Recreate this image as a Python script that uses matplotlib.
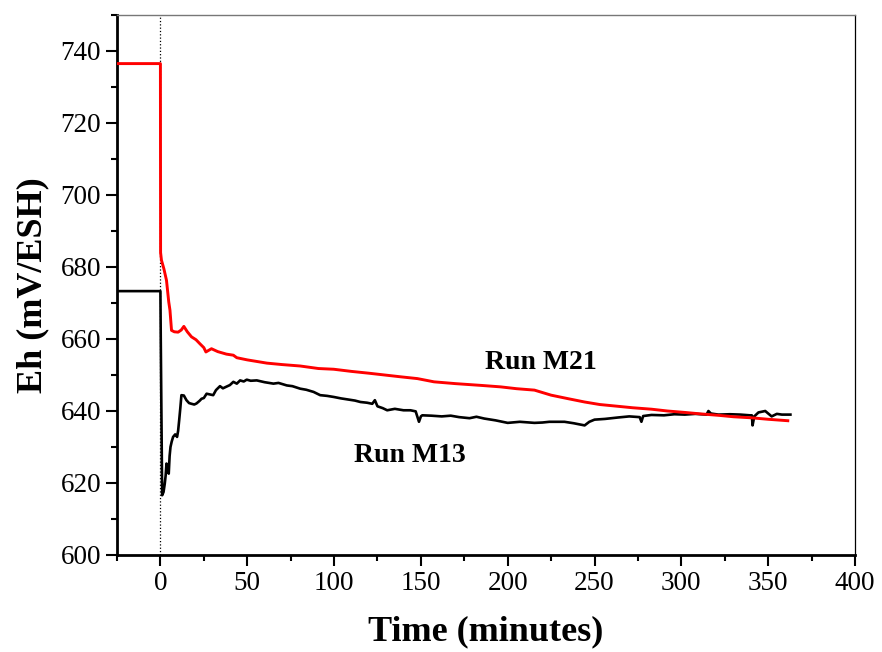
import matplotlib
matplotlib.use("Agg")
import matplotlib.pyplot as plt
from matplotlib.ticker import MultipleLocator

# --- data ---
m21_time = [-25, 0, 0.1, 0.6, 2.0, 3.5, 4.8, 5.5, 6.4, 8.0, 10.2, 12.0, 13.5, 15.5,
            17.9, 20.5, 22.7, 25.0, 26.2, 29.4, 33.0, 38.0, 42.0, 44.0, 50.0, 61.3,
            70.0, 80.5, 91.0, 99.8, 110.0, 120.0, 138.3, 148.0, 157.6, 170.0, 185.0,
            196.0, 205.0, 215.4, 225.0, 235.0, 244.3, 253.0, 263.6, 272.0, 282.8,
            292.0, 302.0, 311.0, 321.4, 330.0, 340.6, 350.0, 361.3]
m21_eh = [736.5, 736.5, 684.0, 681.9, 679.5, 676.3, 670.3, 668.0, 662.4, 662.0, 661.9,
          662.5, 663.5, 662.0, 660.6, 659.8, 658.7, 657.6, 656.4, 657.3, 656.5, 655.8,
          655.5, 654.8, 654.2, 653.3, 652.9, 652.5, 651.8, 651.6, 651.0, 650.5, 649.5,
          649.0, 648.1, 647.6, 647.1, 646.7, 646.2, 645.8, 644.4, 643.4, 642.5, 641.8,
          641.3, 640.9, 640.5, 640.0, 639.6, 639.2, 638.8, 638.4, 638.1, 637.7, 637.3]

m13_time = [-25, 0, 0.2, 1.0, 1.8, 2.5, 3.0, 3.5, 4.2, 4.8, 5.3, 5.8, 6.5, 7.3, 8.5,
            9.6, 10.2, 10.8, 11.5, 12.1, 13.5, 15.0, 16.5, 17.9, 19.5, 20.8, 22.5,
            23.7, 25.0, 26.6, 28.5, 30.4, 32.0, 34.3, 36.0, 38.2, 40.0, 42.0, 44.0,
            45.9, 48.0, 49.7, 52.0, 55.5, 60.0, 65.1, 68.0, 72.8, 76.0, 80.5, 84.0,
            88.2, 92.0, 96.0, 99.8, 104.0, 108.0, 112.0, 115.2, 119.0, 122.0, 123.5,
            125.0, 128.0, 130.6, 135.0, 140.0, 144.0, 147.0, 148.9, 150.0, 150.8,
            156.0, 162.0, 167.2, 172.0, 178.0, 182.0, 186.5, 193.0, 200.0, 207.0,
            215.4, 220.0, 224.0, 232.7, 238.0, 244.3, 247.0, 250.0, 256.0, 263.6,
            270.0, 276.0, 277.0, 278.0, 282.8, 290.0, 296.0, 302.0, 308.0, 314.5,
            315.6, 317.0, 321.4, 328.0, 334.0, 339.5, 340.6, 341.0, 342.0, 344.4,
            348.3, 352.0, 355.0, 357.9, 362.8]
m13_eh = [673.3, 673.3, 660.0, 616.6, 617.5, 619.8, 622.0, 625.4, 624.0, 622.6, 627.5,
          630.0, 631.5, 632.8, 633.5, 632.8, 634.5, 637.4, 641.0, 644.4, 644.3, 643.0,
          642.2, 642.0, 641.8, 642.1, 642.8, 643.4, 643.6, 644.8, 644.6, 644.4, 645.8,
          646.9, 646.3, 646.8, 647.2, 648.1, 647.6, 648.5, 648.2, 648.7, 648.4, 648.5,
          648.0, 647.6, 647.8, 647.1, 646.9, 646.2, 645.9, 645.3, 644.4, 644.2, 643.9,
          643.5, 643.2, 642.9, 642.5, 642.3, 642.0, 643.0, 641.3, 640.8, 640.2, 640.6,
          640.2, 640.2, 639.9, 637.0, 638.5, 638.8, 638.7, 638.5, 638.7, 638.3, 638.0,
          638.4, 637.9, 637.4, 636.7, 637.0, 636.7, 636.8, 637.0, 637.0, 636.6, 636.0,
          637.0, 637.6, 637.8, 638.2, 638.5, 638.3, 637.0, 638.6, 638.9, 638.8, 639.1,
          639.0, 639.2, 639.0, 640.0, 639.3, 639.0, 639.1, 639.0, 638.8, 638.8, 636.0,
          638.5, 639.6, 640.0, 638.5, 639.2, 639.0, 639.0]

plt.rcParams['font.family'] = ['Liberation Serif', 'DejaVu Serif']

fig = plt.figure(figsize=(8.82, 6.52), dpi=100)
ax = fig.add_axes([117 / 882, 1 - 555 / 652, (855 - 117) / 882, (555 - 15) / 652])

ax.axvline(0, color='black', linestyle=':', linewidth=0.9, zorder=1)
ax.plot(m21_time, m21_eh, color='red', linewidth=2.1, zorder=3)
ax.plot(m13_time, m13_eh, color='black', linewidth=1.9, zorder=2)

ax.text(219, 653.5, 'Run M21', fontsize=20, fontweight='bold', ha='center', va='center')
ax.text(143.5, 627.7, 'Run M13', fontsize=20, fontweight='bold', ha='center', va='center')

ax.set_xlim(-25, 400)
ax.set_ylim(600, 750)
ax.xaxis.set_major_locator(MultipleLocator(50))
ax.xaxis.set_minor_locator(MultipleLocator(25))
ax.yaxis.set_major_locator(MultipleLocator(20))
ax.yaxis.set_minor_locator(MultipleLocator(10))

ax.tick_params(which='both', direction='out', top=False, right=False, width=1.5,
               labelsize=19.5)
ax.tick_params(which='major', length=8)
ax.tick_params(which='minor', length=4.5)

ax.spines['left'].set_linewidth(2.0)
ax.spines['bottom'].set_linewidth(2.0)
ax.spines['right'].set_linewidth(0.9)
ax.spines['top'].set_linewidth(1.0)
ax.spines['top'].set_color('#777777')

ax.set_xlabel('Time (minutes)', fontsize=26, fontweight='bold', labelpad=14)
ax.set_ylabel('Eh (mV/ESH)', fontsize=26, fontweight='bold', labelpad=8)

fig.savefig('out.png', dpi=100)
